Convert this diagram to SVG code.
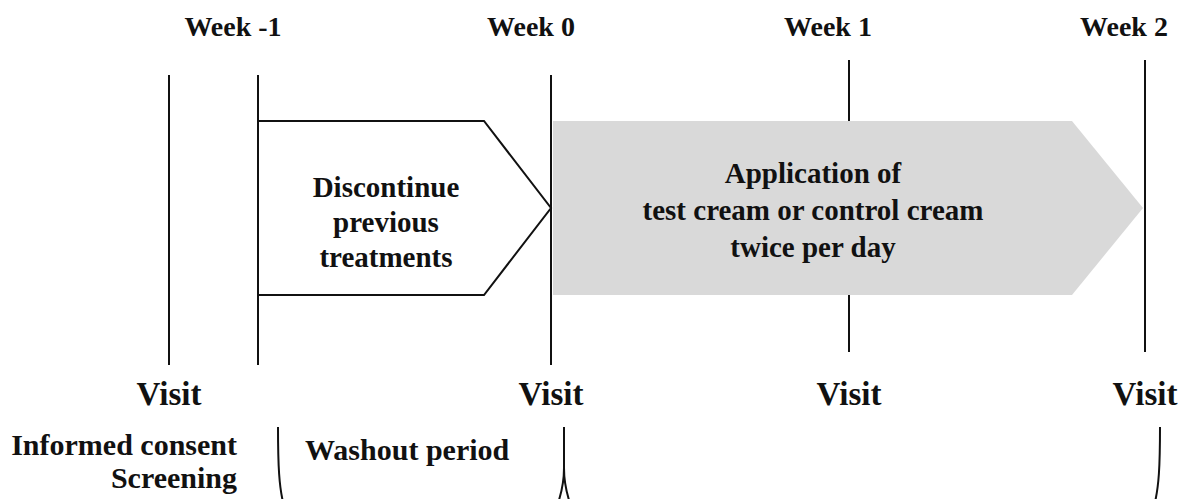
<svg xmlns="http://www.w3.org/2000/svg" width="1182" height="499" viewBox="0 0 1182 499">
<style>
text{font-family:"Liberation Serif","Times New Roman",serif;font-weight:bold;fill:#111}
.wk{font-size:28px;text-anchor:middle}
.vs{font-size:33px;text-anchor:middle}
.lb{font-size:29px;text-anchor:middle}
.sm{font-size:30px}
.ln{stroke:#111;stroke-width:2;fill:none}
</style>
<rect width="1182" height="499" fill="#fff"/>
<g id="week-labels">
<text class="wk" x="233" y="36">Week -1</text>
<text class="wk" x="531" y="36">Week 0</text>
<text class="wk" x="828" y="36">Week 1</text>
<text class="wk" x="1124" y="36">Week 2</text>
</g>
<g id="connectors">
<line class="ln" x1="169" y1="75" x2="169" y2="365"/>
<line class="ln" x1="258" y1="75" x2="258" y2="365"/>
<line class="ln" x1="551" y1="75" x2="551" y2="365"/>
<line class="ln" x1="849" y1="60" x2="849" y2="352"/>
<line class="ln" x1="1145" y1="60" x2="1145" y2="352"/>
</g>
<g id="discontinue">
<polygon points="258,121 484,121 551,208 484,295 258,295" fill="#fff" stroke="#111" stroke-width="2"/>
<text class="lb" x="386" y="197">Discontinue</text>
<text class="lb" x="386" y="232">previous</text>
<text class="lb" x="386" y="267">treatments</text>
</g>
<g id="application">
<polygon points="553,121 1072,121 1143,208 1072,295 553,295" fill="#d9d9d9"/>
<text class="lb" x="813" y="183">Application of</text>
<text class="lb" x="813" y="220">test cream or control cream</text>
<text class="lb" x="813" y="257">twice per day</text>
</g>
<g id="visits">
<text class="vs" x="169" y="405">Visit</text>
<text class="vs" x="551" y="405">Visit</text>
<text class="vs" x="849" y="405">Visit</text>
<text class="vs" x="1145" y="405">Visit</text>
</g>
<g id="screening">
<text class="sm" x="237" y="455" text-anchor="end">Informed consent</text>
<text class="sm" x="237" y="488" text-anchor="end">Screening</text>
</g>
<g id="washout">
<text class="sm" x="305" y="460">Washout period</text>
</g>
<g id="braces">
<path class="ln" d="M278,427 C278,465 279,488 284,506"/>
<path class="ln" d="M564,427 L564,468 C564,485 561,495 557,506 M564,468 C564,485 567,495 571,506"/>
<path class="ln" d="M1160,427 C1160,465 1159,488 1154,506"/>
</g>
</svg>
